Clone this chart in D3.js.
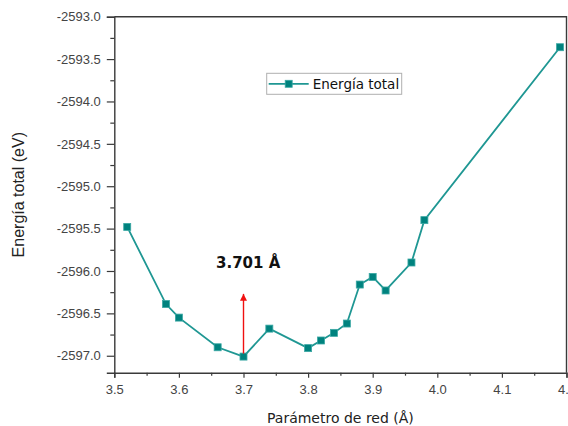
<!DOCTYPE html>
<html lang="es">
  <head>
    <meta charset="utf-8">
    <title>Energía total vs parámetro de red</title>
    <script src="https://cdn.jsdelivr.net/npm/d3@7/dist/d3.min.js"></script>
    <style>
      body { margin: 0; background: #fff; }
      svg { display: block; }
    </style>
  </head>
  <body>
    <script>

      /*
      DATA
       */

      const lattice = [3.52, 3.58, 3.60, 3.66, 3.70, 3.74, 3.80, 3.82, 3.84, 3.86, 3.88, 3.90, 3.92, 3.96, 3.98, 4.19];
      const energy = [-2595.48, -2596.39, -2596.55, -2596.90, -2597.01, -2596.68, -2596.91, -2596.82,
                      -2596.73, -2596.62, -2596.16, -2596.07, -2596.23, -2595.90, -2595.40, -2593.36];

      const xTicks = [3.5, 3.6, 3.7, 3.8, 3.9, 4.0, 4.1, 4.2];
      const yTicks = [-2593.0, -2593.5, -2594.0, -2594.5, -2595.0, -2595.5, -2596.0, -2596.5, -2597.0];

      const seriesName = "Energía total";
      const xTitle = "Parámetro de red (Å)";
      const yTitle = "Energía total (eV)";
      const minLabel = "3.701 Å";
      const minX = 3.70;
      const arrowTop = -2596.27;

      /*
      LAYOUT
       */

      const WIDTH = 568;
      const HEIGHT = 426;
      const PLOT_LEFT = 114.3;
      const PLOT_RIGHT = 566.5;
      const PLOT_TOP = 16.7;
      const PLOT_BOTTOM = 372.7;

      const TEAL_LINE = "#1f9793";
      const TEAL_FILL = "#00827e";
      const AXIS_COLOR = "#3a3a3a";
      const LABEL_COLOR = "#444";

      const ARIAL = "'Liberation Sans', Arial, sans-serif";
      const VERDANA = "'DejaVu Sans', Verdana, sans-serif";

      let svg = d3.select("body").append("svg")
        .attr("width", WIDTH)
        .attr("height", HEIGHT);

      let x = d3.scaleLinear().domain([3.5, 4.2]).range([PLOT_LEFT, PLOT_RIGHT]);
      let y = d3.scaleLinear().domain([-2597.2, -2593.0]).range([PLOT_BOTTOM, PLOT_TOP]);

      // arrow head
      svg.append("defs").append("marker")
        .attr("id", "head")
        .attr("viewBox", "0 0 10 10")
        .attr("refX", 10).attr("refY", 5)
        .attr("markerWidth", 7).attr("markerHeight", 7)
        .attr("markerUnits", "userSpaceOnUse")
        .attr("orient", "auto")
        .append("path")
        .attr("d", "M0,0 L10,5 L0,10 Z")
        .attr("fill", "#f01010");

      /* frame (top + right) */
      svg.append("path")
        .attr("d", "M" + PLOT_LEFT + "," + PLOT_TOP + " H" + PLOT_RIGHT + " V" + PLOT_BOTTOM)
        .attr("fill", "none")
        .attr("stroke", AXIS_COLOR)
        .attr("stroke-width", 1.4);

      /* minor ticks */
      let xMinor = xTicks.slice(0, -1).map(d => d + 0.05);
      let yMinor = yTicks.slice(1).map(d => d + 0.25);

      let gx = svg.append("g")
        .attr("transform", "translate(0," + PLOT_BOTTOM + ")");
      gx.append("g")
        .call(d3.axisBottom(x).tickValues(xMinor).tickSize(3).tickFormat(""))
        .call(g => g.select(".domain").remove());
      gx.append("g")
        .call(d3.axisBottom(x).tickValues(xTicks).tickSize(5).tickPadding(7).tickFormat(d3.format(".1f")));

      let gy = svg.append("g")
        .attr("transform", "translate(" + PLOT_LEFT + ",0)");
      gy.append("g")
        .call(d3.axisLeft(y).tickValues(yMinor).tickSize(4).tickFormat(""))
        .call(g => g.select(".domain").remove());
      gy.append("g")
        .call(d3.axisLeft(y).tickValues(yTicks).tickSize(7.5).tickPadding(6)
          .tickFormat(d => d3.format(".1f")(d).replace("−", "-")));

      svg.selectAll(".domain")
        .attr("stroke", AXIS_COLOR)
        .attr("stroke-width", 1.4);
      svg.selectAll(".tick line")
        .attr("stroke", AXIS_COLOR)
        .attr("stroke-width", 1.2);
      svg.selectAll(".tick text")
        .attr("fill", LABEL_COLOR)
        .style("font-family", ARIAL)
        .style("font-size", "13px");

      /* axis titles */
      svg.append("text")
        .attr("x", (PLOT_LEFT + PLOT_RIGHT) / 2)
        .attr("y", 423)
        .attr("text-anchor", "middle")
        .attr("fill", "#222")
        .style("font-family", VERDANA)
        .style("font-size", "14px")
        .text(xTitle);

      svg.append("text")
        .attr("transform", "translate(24," + (PLOT_TOP + PLOT_BOTTOM) / 2 + ") rotate(-90)")
        .attr("text-anchor", "middle")
        .attr("fill", "#222")
        .style("font-family", ARIAL)
        .style("font-size", "16px")
        .text(yTitle);

      /* series */
      let pts = lattice.map((d, i) => [d, energy[i]]);

      svg.append("path")
        .datum(pts)
        .attr("fill", "none")
        .attr("stroke", TEAL_LINE)
        .attr("stroke-width", 1.8)
        .attr("d", d3.line().x(d => x(d[0])).y(d => y(d[1])));

      const SQ = 7;
      svg.append("g").selectAll("rect")
        .data(pts)
        .join("rect")
        .attr("x", d => x(d[0]) - SQ / 2)
        .attr("y", d => y(d[1]) - SQ / 2)
        .attr("width", SQ)
        .attr("height", SQ)
        .attr("fill", TEAL_FILL)
        .attr("stroke", "#3aa8a4")
        .attr("stroke-width", 0.8);

      /* minimum annotation */
      svg.append("line")
        .attr("x1", x(minX)).attr("y1", y(energy[lattice.indexOf(minX)]) - 3)
        .attr("x2", x(minX)).attr("y2", y(arrowTop))
        .attr("stroke", "#f01010")
        .attr("stroke-width", 1.4)
        .attr("marker-end", "url(#head)");

      svg.append("text")
        .attr("x", 216)
        .attr("y", 268)
        .attr("fill", "#111")
        .attr("font-weight", "bold")
        .style("font-family", VERDANA)
        .style("font-size", "15px")
        .text(minLabel);

      /* legend */
      const LEG_X = 266.7, LEG_Y = 73.3, LEG_W = 135, LEG_H = 21;
      let legend = svg.append("g");
      legend.append("rect")
        .attr("x", LEG_X).attr("y", LEG_Y)
        .attr("width", LEG_W).attr("height", LEG_H)
        .attr("fill", "#fff")
        .attr("stroke", "#b0b0b0")
        .attr("stroke-width", 1);
      legend.append("line")
        .attr("x1", LEG_X + 2).attr("x2", LEG_X + 42)
        .attr("y1", LEG_Y + LEG_H / 2).attr("y2", LEG_Y + LEG_H / 2)
        .attr("stroke", TEAL_LINE)
        .attr("stroke-width", 1.8);
      legend.append("rect")
        .attr("x", LEG_X + 22 - SQ / 2).attr("y", LEG_Y + LEG_H / 2 - SQ / 2)
        .attr("width", SQ).attr("height", SQ)
        .attr("fill", TEAL_FILL)
        .attr("stroke", "#3aa8a4")
        .attr("stroke-width", 0.8);
      legend.append("text")
        .attr("x", LEG_X + 46)
        .attr("y", LEG_Y + LEG_H / 2)
        .attr("dominant-baseline", "central")
        .attr("fill", "#111")
        .style("font-family", VERDANA)
        .style("font-size", "13.5px")
        .text(seriesName);

    </script>
  </body>
</html>
